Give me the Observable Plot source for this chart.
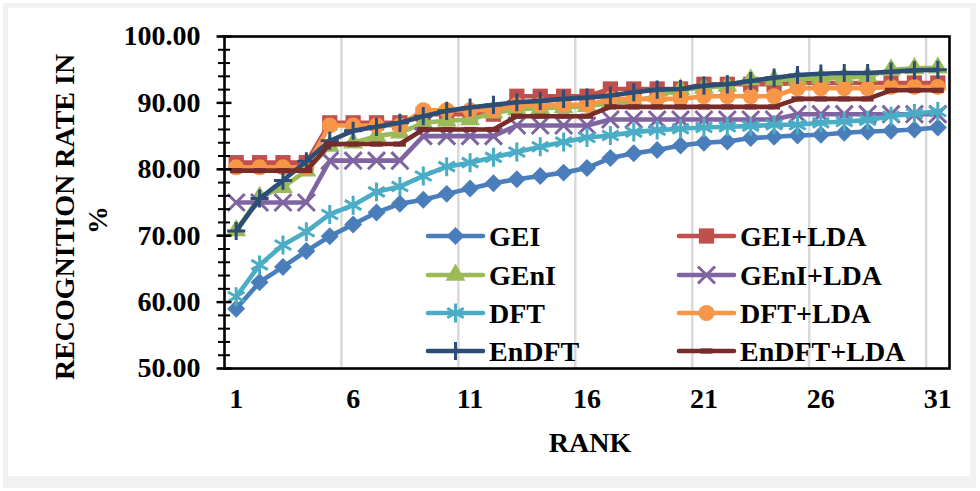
<!DOCTYPE html>
<html><head><meta charset="utf-8">
<script src="https://cdn.jsdelivr.net/npm/d3@7"></script>
<script src="https://cdn.jsdelivr.net/npm/@observablehq/plot@0.6"></script>
<style>
body{margin:0;background:#fff;}
#wrap{position:relative;width:980px;height:491px;overflow:hidden;background:#fff;}
#frame{position:absolute;left:3px;top:3px;width:962px;height:468px;border:5px solid #f1f1f1;border-bottom-width:12px;border-right-width:6px;}
#chart,#overlay{position:absolute;left:0;top:0;}
svg text{font-family:"Liberation Serif","Times New Roman",serif;font-weight:bold;}
</style></head>
<body>
<div id="wrap"><div id="frame"></div><div id="chart"></div><svg id="overlay" width="980" height="491"></svg></div>
<script>
// ---- data ----
const ranks = [1,2,3,4,5,6,7,8,9,10,11,12,13,14,15,16,17,18,19,20,21,22,23,24,25,26,27,28,29,30,31];
const xTickLabels = [1,6,11,16,21,26,31];
const yTickLabels = [50,60,70,80,90,100];
const yMinorTicks = [50,52,54,56,58,60,62,64,66,68,70,72,74,76,78,80,82,84,86,88,90,92,94,96,98,100];

const GEI =        [59.0,63.0,65.3,67.7,69.9,71.7,73.5,74.8,75.4,76.3,77.1,77.9,78.5,79.0,79.5,80.2,81.7,82.4,82.9,83.6,84.0,84.2,84.7,84.9,85.1,85.2,85.5,85.7,85.8,86.0,86.3];
const GEI_LDA =    [81.0,81.0,81.0,81.0,87.0,87.0,87.0,87.0,88.3,88.3,88.3,88.3,91.0,91.0,91.0,91.0,92.1,92.1,92.1,92.1,92.8,92.8,92.8,92.8,93.0,93.0,93.0,93.0,93.0,93.0,93.0];
const GEnI =       [70.8,75.8,77.3,79.8,83.5,84.0,85.0,85.5,87.0,87.3,87.5,88.5,89.0,89.2,89.3,89.5,90.0,90.3,91.0,92.0,92.3,92.6,93.5,93.5,93.6,93.7,93.8,94.0,95.0,95.2,95.3];
const GEnI_LDA =   [75.0,75.0,75.0,75.0,81.3,81.3,81.3,81.3,85.0,85.0,85.0,85.0,86.6,86.6,86.6,86.6,87.5,87.5,87.5,87.5,87.5,87.5,87.5,87.5,88.3,88.3,88.3,88.3,88.3,88.3,88.3];
const DFT =        [60.8,65.6,68.6,70.6,73.2,74.6,76.6,77.4,79.0,80.4,81.0,81.8,82.6,83.4,84.1,84.8,85.1,85.6,85.9,86.1,86.3,86.4,86.5,86.7,86.7,87.0,87.2,87.4,88.0,88.4,88.7];
const DFT_LDA =    [80.3,80.3,80.3,80.3,86.6,86.6,86.6,86.6,88.9,88.9,88.9,88.9,89.7,89.7,89.7,89.7,90.6,90.6,90.6,90.6,91.0,91.0,91.0,91.0,92.2,92.2,92.2,92.2,92.4,92.4,92.4];
const EnDFT =      [70.7,75.6,78.3,81.2,84.3,85.8,86.4,87.0,88.0,88.8,89.3,89.7,90.1,90.3,90.6,90.8,91.1,91.6,92.0,92.1,92.6,92.8,93.3,93.8,94.2,94.4,94.5,94.5,94.7,94.9,95.0];
const EnDFT_LDA =  [79.8,79.8,79.8,79.8,83.8,83.8,83.8,83.8,86.0,86.0,86.0,86.0,88.0,88.0,88.0,88.0,89.4,89.4,89.4,89.4,89.4,89.4,89.4,89.4,90.6,90.6,90.6,90.6,91.9,91.9,91.9];

const seriesNames = ["GEI","GEI+LDA","GEnI","GEnI+LDA","DFT","DFT+LDA","EnDFT","EnDFT+LDA"];
const seriesValues = [GEI,GEI_LDA,GEnI,GEnI_LDA,DFT,DFT_LDA,EnDFT,EnDFT_LDA];
const seriesColors = ["#4A7EBB","#C0504D","#9BBB59","#8064A2","#4BACC6","#F79646","#2C4D75","#772C2A"];

// ---- styles ----
const dash = {draw(ctx){ ctx.rect(-6,-2.6,12,5.2); }};
const markerStyle = {
  "GEI":       {symbol:"diamond2", r:8.1, filled:true},
  "GEI+LDA":   {symbol:"square", r:8.6, filled:true},
  "GEnI":      {symbol:"triangle", r:7.4, filled:true},
  "GEnI+LDA":  {symbol:"times", r:7.8, filled:false},
  "DFT":       {symbol:"asterisk", r:9.0, filled:false},
  "DFT+LDA":   {symbol:"circle", r:8.0, filled:true},
  "EnDFT":     {symbol:"plus", r:5.9, filled:false},
  "EnDFT+LDA": {symbol:dash, r:6, filled:true}
};
const lineW = 4.6;
const gridAt = xTickLabels.slice(1).map(t => t - 0.5);

const marks = [Plot.ruleX(gridAt, {stroke:"#d9d9d9", strokeWidth:2.5})];
seriesNames.forEach((name, si) => {
  const data = ranks.map((k, i) => ({rank:k, value:seriesValues[si][i]}));
  const c = seriesColors[si], m = markerStyle[name];
  marks.push(Plot.line(data, {x:"rank", y:"value", stroke:c, strokeWidth:lineW, strokeLinejoin:"round", strokeLinecap:"round"}));
  marks.push(Plot.dot(data, m.filled
    ? {x:"rank", y:"value", symbol:m.symbol, r:m.r, fill:c, stroke:"none"}
    : {x:"rank", y:"value", symbol:m.symbol, r:m.r, fill:"none", stroke:c, strokeWidth:3}));
});
marks.push(
  Plot.frame({stroke:"#000", strokeWidth:2.6}),
  Plot.axisY({ticks:yMinorTicks, tickSize:12, dx:6, tickFormat:() => "", stroke:"#000", strokeWidth:2, label:null}),
  Plot.axisY({ticks:yTickLabels, tickSize:15, dx:7.5, tickFormat:() => "", stroke:"#000", strokeWidth:2.4, label:null}),
  Plot.axisY({ticks:yTickLabels, tickSize:0, tickPadding:24, tickFormat:d => d.toFixed(2), fontSize:28, fill:"#000", label:null}),
  Plot.axisX({ticks:xTickLabels, tickSize:0, tickPadding:20, tickFormat:d => String(d), fontSize:28, fill:"#000", label:null})
);

const chart = Plot.plot({
  width:980, height:491,
  marginLeft:224, marginRight:31, marginTop:36, marginBottom:123,
  x:{type:"linear", domain:[0.5,31.5]},
  y:{type:"linear", domain:[50,100]},
  style:{fontFamily:"'Liberation Serif','Times New Roman',serif", fontWeight:"bold", fontSize:"28px", background:"transparent", color:"#000"},
  marks
});
document.getElementById("chart").appendChild(chart);

// ---- overlay: titles + legend ----
const ov = d3.select("#overlay");
ov.append("text").attr("transform","translate(64,217) rotate(-90)")
  .attr("text-anchor","middle").attr("dominant-baseline","central")
  .attr("font-size",28).text("RECOGNITION RATE IN");
ov.append("text").attr("transform","translate(97,220) rotate(-90)")
  .attr("text-anchor","middle").attr("dominant-baseline","central")
  .attr("font-size",28).text("%");
ov.append("text").attr("x",590).attr("y",442)
  .attr("text-anchor","middle").attr("dominant-baseline","central")
  .attr("font-size",28).text("RANK");

const legX = [428, 679], legRowY = [236, 275, 313, 351];
seriesNames.forEach((name, si) => {
  const col = si % 2, row = Math.floor(si / 2);
  const x0 = legX[col], y0 = legRowY[row], c = seriesColors[si], m = markerStyle[name];
  const g = ov.append("g");
  g.append("line").attr("x1",x0).attr("x2",x0+55).attr("y1",y0).attr("y2",y0)
    .attr("stroke",c).attr("stroke-width",lineW).attr("stroke-linecap","round");
  const sym = typeof m.symbol === "string"
    ? {diamond2:d3.symbolDiamond2, square:d3.symbolSquare, triangle:d3.symbolTriangle, times:d3.symbolTimes, asterisk:d3.symbolAsterisk, circle:d3.symbolCircle, plus:d3.symbolPlus}[m.symbol]
    : m.symbol;
  const path = d3.symbol(sym, Math.PI * m.r * m.r)();
  const p = g.append("path").attr("d", path).attr("transform",`translate(${x0+27.5},${y0})`);
  if (m.filled) p.attr("fill", c); else p.attr("fill","none").attr("stroke", c).attr("stroke-width",3);
  g.append("text").attr("x", x0+61).attr("y", y0).attr("dominant-baseline","central")
    .attr("font-size",28).attr("fill","#000").text(name);
});
</script>
</body></html>
